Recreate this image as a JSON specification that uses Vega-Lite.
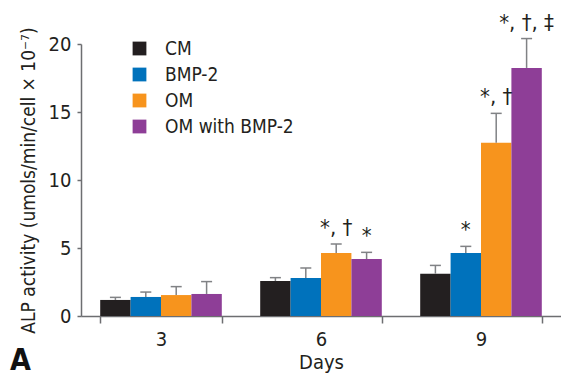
{
  "$schema": "https://vega.github.io/schema/vega-lite/v6.json",
  "autosize": "none",
  "width": 480,
  "height": 272,
  "padding": {"left": 81, "top": 44, "right": 0, "bottom": 61},
  "background": "white",
  "title": {"text": "A", "orient": "bottom", "anchor": "start", "frame": "group", "baseline": "top", "fontSize": 30, "fontWeight": "bold", "font": "DejaVu Sans Condensed", "color": "#111111", "dx": -71, "offset": -26},
  "config": {
    "font": "DejaVu Sans Condensed",
    "view": {"stroke": null},
    "axis": {"grid": false, "domainColor": "#6d6e71", "tickColor": "#6d6e71", "domainWidth": 1.5, "tickWidth": 1.5, "labelColor": "#231f20", "titleColor": "#231f20", "labelFontSize": 20, "titleFontSize": 19, "titleFontWeight": "normal"}
  },
  "data": {"values": [
    {"day": "3", "group": "CM", "value": 1.18, "err": 1.37, "label": ""},
    {"day": "3", "group": "BMP-2", "value": 1.4, "err": 1.76, "label": ""},
    {"day": "3", "group": "OM", "value": 1.54, "err": 2.16, "label": ""},
    {"day": "3", "group": "OM with BMP-2", "value": 1.62, "err": 2.53, "label": ""},
    {"day": "6", "group": "CM", "value": 2.57, "err": 2.82, "label": ""},
    {"day": "6", "group": "BMP-2", "value": 2.79, "err": 3.53, "label": ""},
    {"day": "6", "group": "OM", "value": 4.63, "err": 5.29, "label": "*, †"},
    {"day": "6", "group": "OM with BMP-2", "value": 4.19, "err": 4.68, "label": "*"},
    {"day": "9", "group": "CM", "value": 3.11, "err": 3.72, "label": ""},
    {"day": "9", "group": "BMP-2", "value": 4.63, "err": 5.12, "label": "*"},
    {"day": "9", "group": "OM", "value": 12.74, "err": 14.9, "label": "*, †"},
    {"day": "9", "group": "OM with BMP-2", "value": 18.24, "err": 20.4, "label": "*, †, ‡"}
  ]},
  "encoding": {
    "x": {"field": "day", "type": "nominal", "scale": {"paddingInner": 0.24, "paddingOuter": 0.12}, "axis": {"title": "Days", "titleFontSize": 20, "labelAngle": 0, "tickBand": "extent", "tickSize": 7, "labelPadding": 6, "titlePadding": 3}},
    "xOffset": {"field": "group", "type": "nominal", "sort": ["CM", "BMP-2", "OM", "OM with BMP-2"], "scale": {"padding": 0}}
  },
  "layer": [
    {
      "mark": {"type": "bar"},
      "encoding": {
        "y": {"field": "value", "type": "quantitative", "scale": {"domain": [0, 20]}, "axis": {"title": "ALP activity (umols/min/cell × 10⁻⁷)", "values": [0, 5, 10, 15, 20], "tickSize": 4, "labelPadding": 6, "titlePadding": 10}},
        "color": {"field": "group", "type": "nominal", "sort": ["CM", "BMP-2", "OM", "OM with BMP-2"],
          "scale": {"domain": ["CM", "BMP-2", "OM", "OM with BMP-2"], "range": ["#231f20", "#0072bc", "#f7941d", "#8e3e97"]},
          "legend": {"title": null, "orient": "none", "legendX": 49, "legendY": -5, "symbolType": "square", "symbolSize": 190, "symbolStrokeWidth": 0, "symbolOpacity": 1, "labelFontSize": 19, "labelColor": "#231f20", "rowPadding": 6, "labelOffset": 16, "padding": 0}}
      }
    },
    {
      "mark": {"type": "rule", "color": "#808285", "strokeWidth": 1.5},
      "encoding": {"y": {"field": "value", "type": "quantitative"}, "y2": {"field": "err"}}
    },
    {
      "mark": {"type": "tick", "color": "#808285", "thickness": 1.5, "size": 11, "opacity": 1},
      "encoding": {"y": {"field": "err", "type": "quantitative"}}
    },
    {
      "mark": {"type": "text", "baseline": "bottom", "dy": -4, "fontSize": 22, "color": "#231f20"},
      "encoding": {"y": {"field": "err", "type": "quantitative"}, "text": {"field": "label"}}
    }
  ]
}
